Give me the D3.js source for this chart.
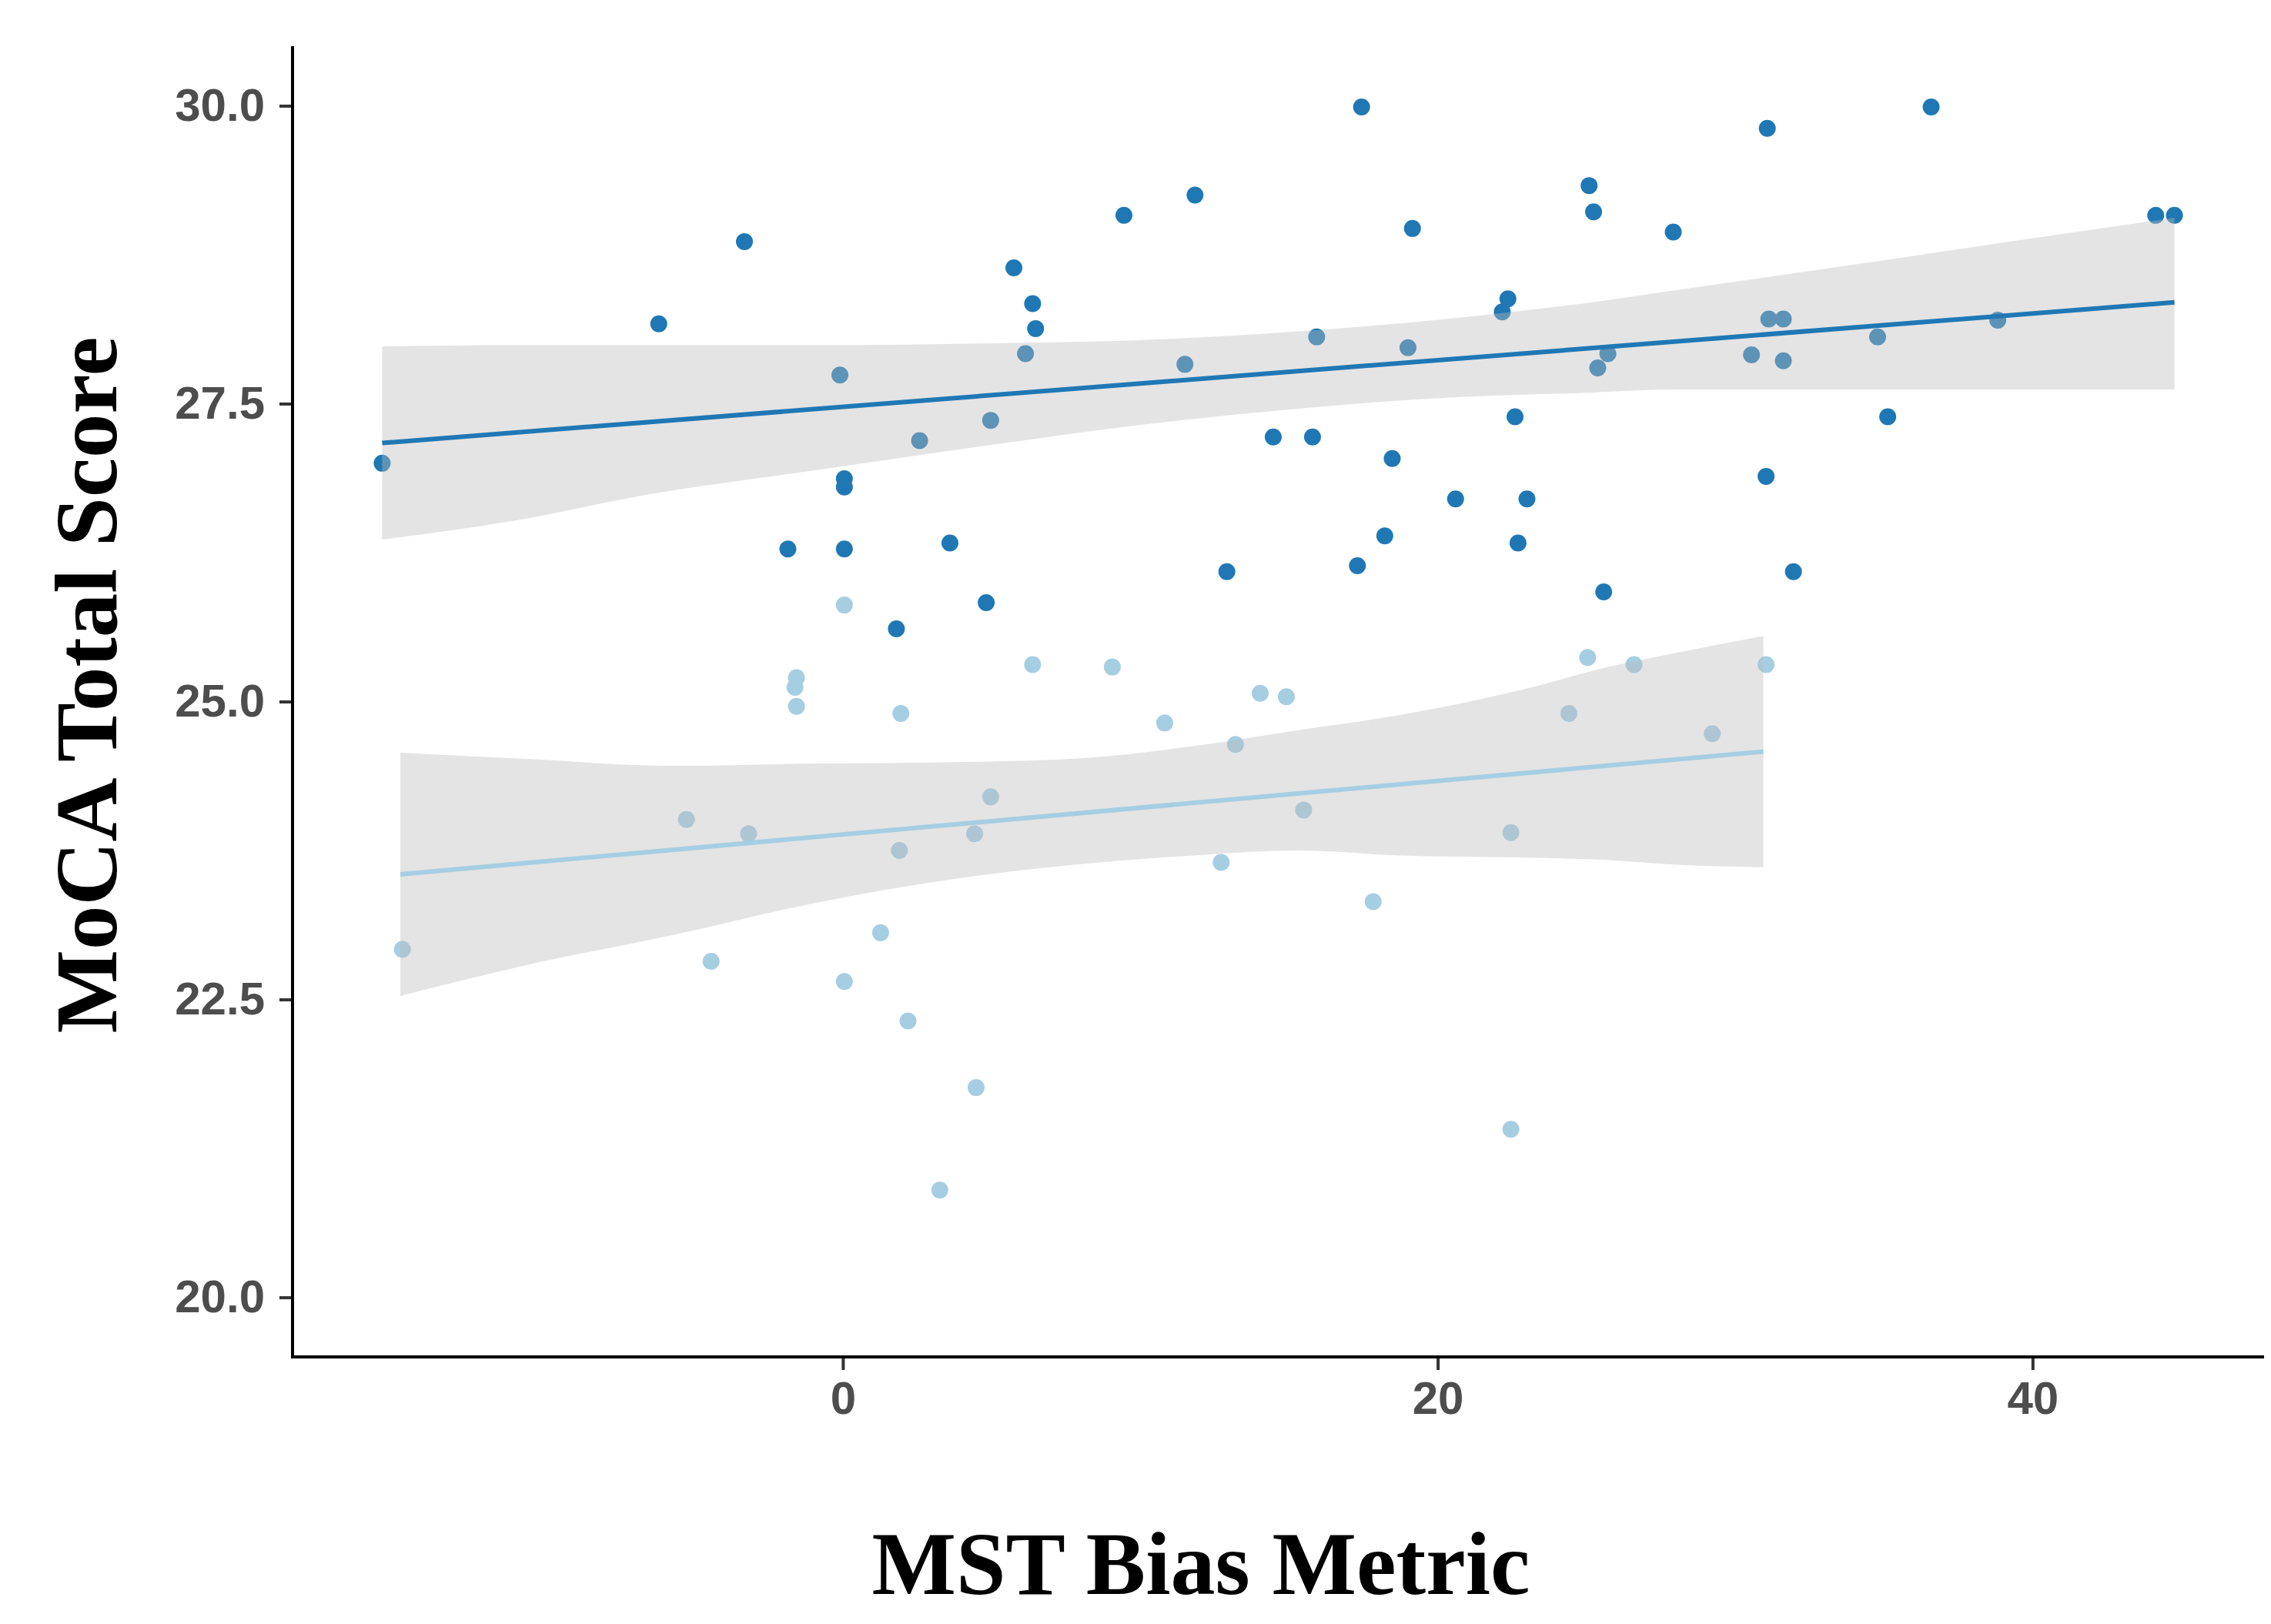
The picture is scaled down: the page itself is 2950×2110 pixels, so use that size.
<!DOCTYPE html>
<html>
<head>
<meta charset="utf-8">
<script src="https://cdn.jsdelivr.net/npm/d3@7"></script>
<style>
  body{margin:0;background:#ffffff;}
  svg{display:block;}
</style>
</head>
<body>
<svg class="plot"></svg>
<script>
// MST bias metric (x) and MoCA total score (y), two groups
var darkX=[-15.49,-6.19,-3.31,-1.85,-0.1,0.05,0.05,0.05,1.8,2.58,3.6,4.82,4.97,5.75,6.14,6.38,6.48,
           9.45,11.5,11.84,12.91,14.47,15.79,15.93,17.3,17.44,18.22,18.47,19.0,19.15,20.6,22.17,22.36,
           22.6,22.7,23.0,25.09,25.24,25.38,25.58,25.72,27.92,30.55,31.04,31.08,31.13,31.62,31.62,
           31.96,34.79,35.13,36.59,38.83,44.14,44.77];
var darkY=[27.0,28.17,28.86,26.28,27.74,26.87,26.8,26.28,25.61,27.19,26.33,25.83,27.36,28.64,27.92,28.34,28.13,
           29.08,27.83,29.25,26.09,27.22,27.22,28.06,26.14,29.99,26.39,27.04,27.97,28.97,26.7,28.27,28.38,
           27.39,26.33,26.7,29.33,29.11,27.8,25.92,27.92,28.94,27.91,26.89,29.81,28.21,28.21,27.86,
           26.09,28.06,27.39,29.99,28.2,29.08,29.08];
var lightX=[-14.81,-5.26,-4.43,-3.17,-1.61,-1.56,-1.56,0.05,0.05,1.9,1.95,1.27,2.19,3.26,4.43,4.48,4.97,
            6.38,9.06,10.82,12.72,13.2,14.03,14.91,15.49,17.83,22.46,22.46,24.41,25.04,26.6,29.23,31.04];
var lightY=[22.92,24.01,22.82,23.89,25.12,25.2,24.96,25.81,22.65,23.75,24.9,23.06,22.32,20.9,23.89,21.76,24.2,
            25.31,25.29,24.82,23.65,24.64,25.07,25.04,24.09,23.32,23.9,21.41,24.9,25.37,25.31,24.73,25.31];

// linear fit line ends and 95% band
var darkFitX=[-15.49,44.77];
var darkFitY=[27.17,28.35];
var darkBandX=[-15.49,-11.01,-6.48,-0.39,5.75,9.65,14.96,21.05,24.85,27.92,34.1,38.68,44.77];
var darkBandHi=[27.98,27.99,27.99,27.99,28.01,28.03,28.10,28.23,28.34,28.45,28.67,28.84,29.06];
var darkBandLo=[26.36,26.52,26.74,26.96,27.18,27.31,27.45,27.56,27.59,27.62,27.62,27.62,27.62];
var lightFitX=[-14.88,30.95];
var lightFitY=[23.55,24.58];
var lightBandX=[-14.88,-10.78,-5.55,-0.93,3.44,7.79,11.89,15.32,18.57,22.85,25.73,28.05,30.95];
var lightBandHi=[24.57,24.52,24.46,24.48,24.49,24.52,24.63,24.76,24.88,25.10,25.29,25.41,25.55];
var lightBandLo=[22.53,22.78,23.05,23.31,23.50,23.63,23.71,23.75,23.71,23.69,23.67,23.63,23.61];

var groupColors=["#1f78b4","#a6cee3"];
var yTicks=[20,22.5,25,27.5,30];
var xTicks=[0,20,40];
var yLimits=[20,30];

var screen=
{
  width:2950,
  height:2110
};
var margin=
{
  top:60,
  bottom:347,
  left:380,
  right:9
};
var width=screen.width-margin.left-margin.right;
var height=screen.height-margin.top-margin.bottom;

var svg=d3.select("svg.plot")
          .attr("width",screen.width)
          .attr("height",screen.height);

var groups=[
  {color:groupColors[0],xs:darkX,ys:darkY,fx:darkFitX,fy:darkFitY,bx:darkBandX,hi:darkBandHi,lo:darkBandLo},
  {color:groupColors[1],xs:lightX,ys:lightY,fx:lightFitX,fy:lightFitY,bx:lightBandX,hi:lightBandHi,lo:lightBandLo}
];

var xExt=d3.extent(darkX.concat(lightX));
var xPad=(xExt[1]-xExt[0])*0.05;
var yPad=(yLimits[1]-yLimits[0])*0.05;

var xscale=d3.scaleLinear()
             .domain([xExt[0]-xPad,xExt[1]+xPad])
             .range([0,width]);
var yscale=d3.scaleLinear()
             .domain([yLimits[0]-yPad,yLimits[1]+yPad])
             .range([height,0]);

var plot=svg.append("g")
            .classed("plot",true)
            .attr("transform","translate("+margin.left+","+margin.top+")");

// points
var pointGroups=plot.selectAll("g.pts")
                    .data(groups)
                    .enter()
                    .append("g")
                    .classed("pts",true)
                    .attr("fill",function(d){
                      return d.color;
                    });
pointGroups.selectAll("circle")
           .data(function(d){
             return d.xs.map(function(x,i){return {x:x,y:d.ys[i]};});
           })
           .enter()
           .append("circle")
           .attr("cx",function(d){
             return xscale(d.x);
           })
           .attr("cy",function(d){
             return yscale(d.y);
           })
           .attr("r",11);

// smooth ribbons and fitted lines
var area=d3.area()
           .curve(d3.curveMonotoneX)
           .x(function(d){return xscale(d.x);})
           .y0(function(d){return yscale(d.lo);})
           .y1(function(d){return yscale(d.hi);});
var line=d3.line()
           .x(function(d){return xscale(d.x);})
           .y(function(d){return yscale(d.y);});

groups.forEach(function(g){
  var band=g.bx.map(function(x,i){return {x:x,lo:g.lo[i],hi:g.hi[i]};});
  var fit=g.fx.map(function(x,i){return {x:x,y:g.fy[i]};});
  plot.append("path")
      .attr("d",area(band))
      .attr("fill","#bcbcbc")
      .attr("fill-opacity",0.4);
  plot.append("path")
      .attr("d",line(fit))
      .attr("fill","none")
      .attr("stroke",g.color)
      .attr("stroke-width",6);
});

// axes
var xAxis=d3.axisBottom(xscale)
            .tickValues(xTicks)
            .tickSize(17)
            .tickPadding(14)
            .tickFormat(d3.format("d"));
var yAxis=d3.axisLeft(yscale)
            .tickValues(yTicks)
            .tickSize(17)
            .tickPadding(19)
            .tickFormat(d3.format(".1f"));

var gx=plot.append("g")
           .attr("transform","translate(0,"+height+")")
           .call(xAxis);
var gy=plot.append("g")
           .call(yAxis);

[gx,gy].forEach(function(g){
  g.select(".domain").remove();
  g.selectAll(".tick line")
   .attr("stroke","#333333")
   .attr("stroke-width",4);
  g.selectAll(".tick text")
   .attr("fill","#4d4d4d")
   .style("font-family","'Liberation Sans', Arial, sans-serif")
   .style("font-weight","bold")
   .style("font-size","60px");
});

plot.append("line")
    .attr("x1",0).attr("x2",0)
    .attr("y1",0).attr("y2",height+2)
    .attr("stroke","#000000")
    .attr("stroke-width",4);
plot.append("line")
    .attr("x1",-2).attr("x2",width)
    .attr("y1",height).attr("y2",height)
    .attr("stroke","#000000")
    .attr("stroke-width",4);

// titles
svg.append("text")
   .attr("transform","translate(151,890) rotate(-90)")
   .attr("text-anchor","middle")
   .style("font-family","'Liberation Serif', 'Times New Roman', serif")
   .style("font-weight","bold")
   .style("font-size","115px")
   .text("MoCA Total Score");
svg.append("text")
   .attr("x",1560)
   .attr("y",2071)
   .attr("text-anchor","middle")
   .style("font-family","'Liberation Serif', 'Times New Roman', serif")
   .style("font-weight","bold")
   .style("font-size","116px")
   .text("MST Bias Metric");
</script>
</body>
</html>
